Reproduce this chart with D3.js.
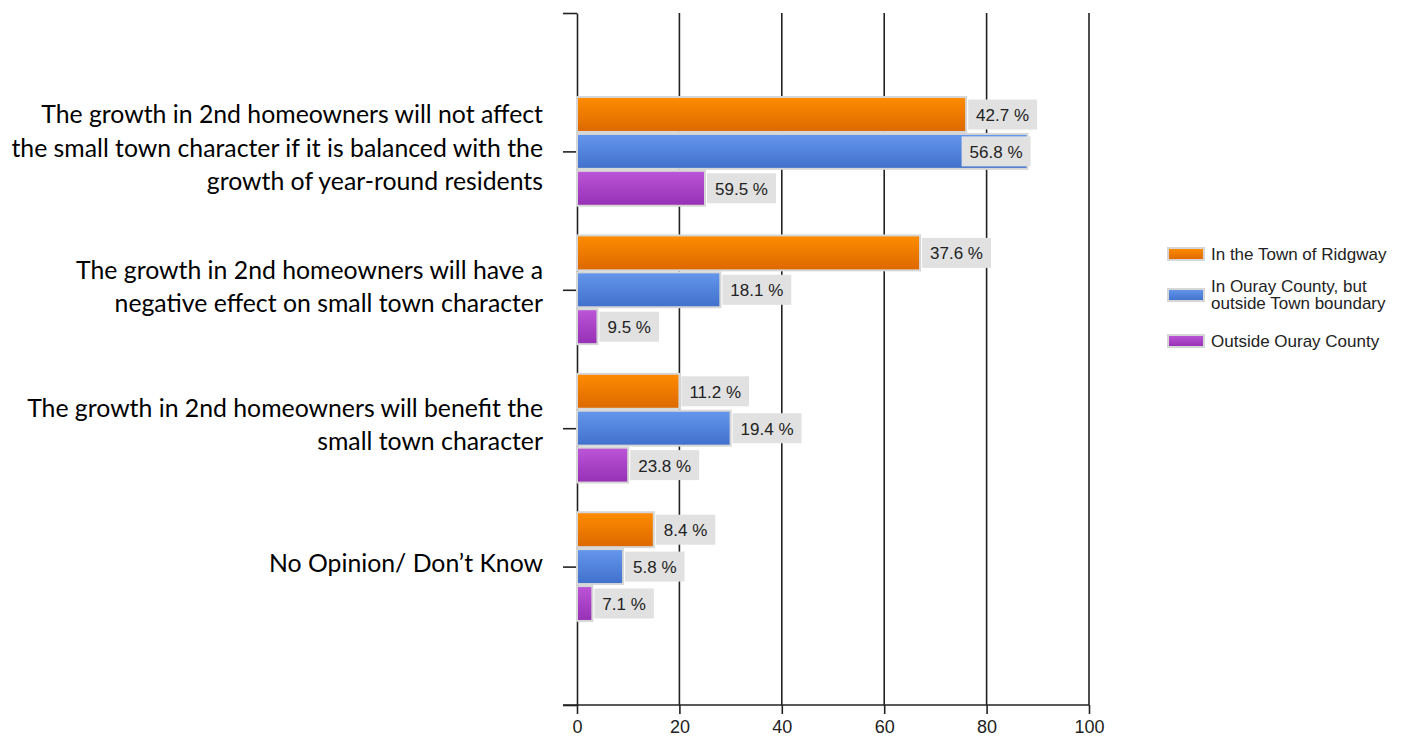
<!DOCTYPE html>
<html>
<head>
<meta charset="utf-8">
<script src="https://cdn.jsdelivr.net/npm/d3@7"></script>
<style>
  html, body { margin: 0; padding: 0; background: #fff; }
  svg { display: block; }
</style>
</head>
<body>
<svg id="chart" width="1411" height="738"></svg>
<script>
// Survey statements (one entry per category, already split into display lines)
const categories = [
  ["The growth in 2nd homeowners will not affect",
   "the small town character if it is balanced with the",
   "growth of year-round residents"],
  ["The growth in 2nd homeowners will have a",
   "negative effect on small town character"],
  ["The growth in 2nd homeowners will benefit the",
   "small town character"],
  ["No Opinion/ Don\u2019t Know"]
];

// Respondent groups (legend entries)
const seriesNames = [
  ["In the Town of Ridgway"],
  ["In Ouray County, but", "outside Town boundary"],
  ["Outside Ouray County"]
];

// Number of responses per statement for each group
const ridgwayCounts  = [76, 67, 20, 15];
const countyCounts   = [88, 28, 30, 9];
const outsideCounts  = [25, 4, 10, 3];

// Horizontal axis ticks
const xTicks = [0, 20, 40, 60, 80, 100];

const seriesCounts = [ridgwayCounts, countyCounts, outsideCounts];
const seriesColors = [
  { top: "#ff8c00", bottom: "#dc6800" },
  { top: "#6597ec", bottom: "#4070cc" },
  { top: "#bc55d8", bottom: "#9630b4" }
];

const svg = d3.select("#chart");

// Plot area
const plotLeft = 577, plotRight = 1089, plotTop = 13, plotBottom = 705;

const x = d3.scaleLinear().domain([0, 100]).range([plotLeft, plotRight]);
// Category slots: categories sit at 1..4 on a 0..5 axis
const yAxisScale = d3.scaleLinear().domain([0, categories.length + 1]).range([plotTop, plotBottom]);
const step = yAxisScale(1) - yAxisScale(0);
const inner = d3.scaleBand()
  .domain(d3.range(seriesCounts.length))
  .range([-step * 0.4, step * 0.4])
  .paddingInner(0.0);

// Gradients for the bars
const defs = svg.append("defs");
seriesColors.forEach((c, i) => {
  const g = defs.append("linearGradient")
    .attr("id", "grad" + i)
    .attr("x1", 0).attr("y1", 0).attr("x2", 0).attr("y2", 1);
  g.append("stop").attr("offset", "0%").attr("stop-color", c.top);
  g.append("stop").attr("offset", "100%").attr("stop-color", c.bottom);
});

// Vertical grid lines
svg.append("g")
  .selectAll("line")
  .data(xTicks.filter(t => t > 0))
  .join("line")
  .attr("x1", d => x(d)).attr("x2", d => x(d))
  .attr("y1", plotTop).attr("y2", plotBottom)
  .attr("stroke", "#222")
  .attr("stroke-width", 1.6);

// Bottom axis
const xAxis = svg.append("g")
  .attr("transform", `translate(0,${plotBottom})`)
  .call(d3.axisBottom(x).tickValues(xTicks).tickSize(9).tickSizeOuter(0).tickPadding(6));
xAxis.select(".domain").remove();
xAxis.selectAll(".tick line").attr("stroke", "#222").attr("stroke-width", 1.6);
xAxis.selectAll(".tick text")
  .attr("font-family", "Liberation Sans, Arial, sans-serif")
  .attr("font-size", 18)
  .attr("fill", "#222");
svg.append("line")
  .attr("x1", plotLeft - 14).attr("x2", plotRight)
  .attr("y1", plotBottom).attr("y2", plotBottom)
  .attr("stroke", "#222").attr("stroke-width", 1.6);

// Left axis with ticks at every slot
const yAxis = svg.append("g")
  .attr("transform", `translate(${plotLeft},0)`)
  .call(d3.axisLeft(yAxisScale)
    .tickValues(d3.range(0, categories.length + 2))
    .tickSize(14).tickSizeOuter(0).tickFormat(""));
yAxis.select(".domain").attr("stroke", "#222").attr("stroke-width", 1.6);
yAxis.selectAll(".tick line").attr("stroke", "#222").attr("stroke-width", 1.6);

// Bars
const barData = [];
seriesCounts.forEach((counts, s) => {
  const total = d3.sum(counts);
  counts.forEach((v, c) => {
    barData.push({ s, c, v, pct: v / total * 100 });
  });
});

const bars = svg.append("g");
bars.selectAll("rect")
  .data(barData)
  .join("rect")
  .attr("x", x(0))
  .attr("y", d => yAxisScale(d.c + 1) + inner(d.s) + 1)
  .attr("width", d => x(d.v) - x(0))
  .attr("height", inner.bandwidth() - 2)
  .attr("fill", d => `url(#grad${d.s})`)
  .attr("stroke", "#d6d6d6")
  .attr("stroke-width", 2);

// Percentage labels in grey boxes at the bar ends
const labelFont = "Liberation Sans, Arial, sans-serif";
const labels = svg.append("g");
barData.forEach(d => {
  const cy = yAxisScale(d.c + 1) + inner(d.s) + inner.bandwidth() / 2;
  const g = labels.append("g");
  const box = g.append("rect").attr("fill", "#e1e1e1");
  const t = g.append("text")
    .attr("font-family", labelFont)
    .attr("font-size", 17)
    .attr("fill", "#222")
    .attr("dominant-baseline", "central")
    .text(d3.format(".1f")(d.pct) + " %");
  const tw = t.node().getComputedTextLength();
  const bw = tw + 16, bh = 30;
  let bx = x(d.v) + 2;
  if (bx + bw > plotRight) bx = x(d.v) + 3 - bw;
  box.attr("x", bx).attr("y", cy - bh / 2).attr("width", bw).attr("height", bh);
  t.attr("x", bx + 8).attr("y", cy + 1);
});

// Category labels, right-aligned left of the axis
const catG = svg.append("g");
const lineH = 33.5;
categories.forEach((lines, c) => {
  const cy = yAxisScale(c + 1) - 4;
  const t = catG.append("text")
    .attr("font-family", "Lato, 'Open Sans', sans-serif")
    .attr("font-size", 24.8)
    .attr("fill", "#000")
    .attr("text-anchor", "end");
  lines.forEach((ln, i) => {
    t.append("tspan")
      .attr("x", 543)
      .attr("y", cy + (i - (lines.length - 1) / 2) * lineH)
      .attr("dominant-baseline", "central")
      .text(ln);
  });
});

// Legend
const legendRows = [254, 295, 341];
const legend = svg.append("g");
seriesNames.forEach((lines, i) => {
  const cy = legendRows[i];
  legend.append("rect")
    .attr("x", 1168).attr("y", cy - 6)
    .attr("width", 36).attr("height", 12)
    .attr("fill", `url(#grad${i})`)
    .attr("stroke", "#d6d6d6").attr("stroke-width", 2);
  const t = legend.append("text")
    .attr("font-family", labelFont)
    .attr("font-size", 17)
    .attr("fill", "#222");
  lines.forEach((ln, k) => {
    t.append("tspan")
      .attr("x", 1211)
      .attr("y", cy + (k - (lines.length - 1) / 2) * 16.5)
      .attr("dominant-baseline", "central")
      .text(ln);
  });
});
</script>
</body>
</html>
